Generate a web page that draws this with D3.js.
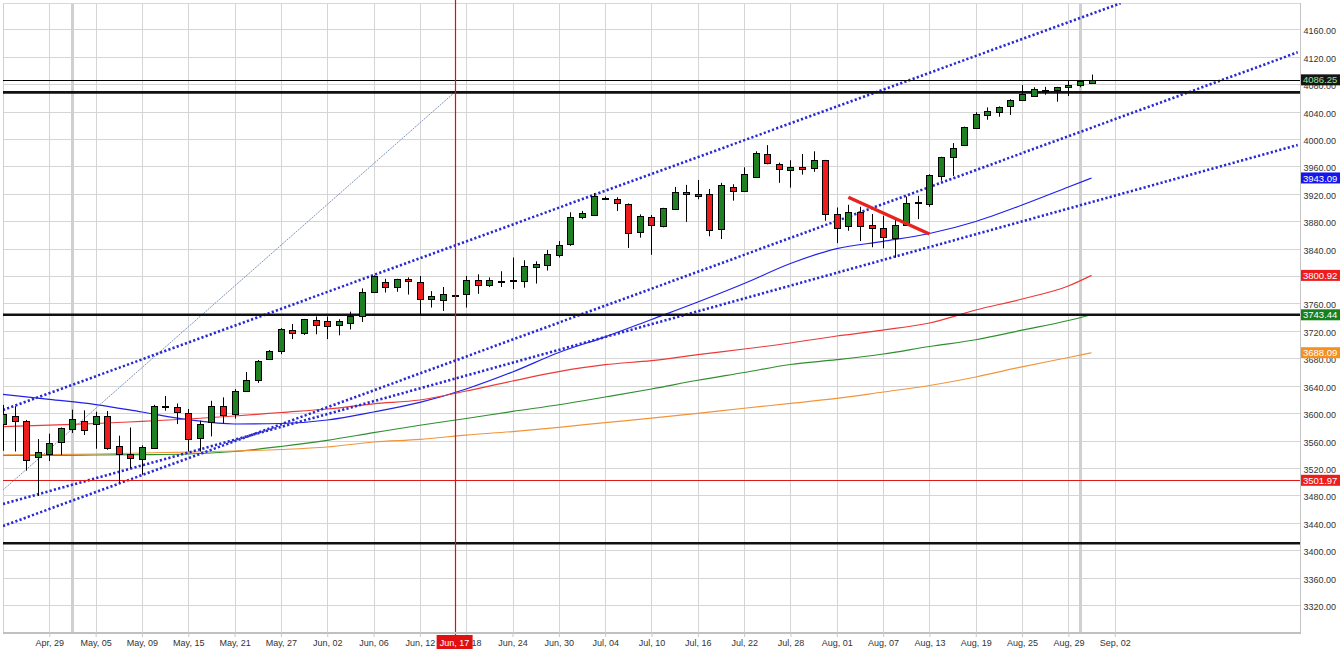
<!DOCTYPE html>
<html>
<head>
<meta charset="utf-8">
<script src="https://cdn.jsdelivr.net/npm/d3@7"></script>
<style>
  html, body { margin: 0; padding: 0; background: #fff; }
  svg { display: block; font-family: "Liberation Sans", Arial, sans-serif; }
</style>
</head>
<body>
<div id="chart"></div>
<script>
// chart.js - daily candles with moving averages and drawn trend lines

// Bars are counted from Apr 29 (bar 0); the first visible bar is -4
const firstBar = -4;
const opens = [3585, 3596, 3588, 3535.5, 3541, 3557, 3576, 3589, 3584, 3596, 3552, 3540, 3533.5, 3549, 3610.5, 3609, 3600, 3563, 3587, 3611,
  3598, 3632, 3648, 3678.5, 3690, 3721, 3716.5, 3736, 3735, 3728, 3732, 3742, 3777, 3791, 3784, 3795.7, 3792, 3765.5, 3765.5, 3773,
  3773, 3794, 3786, 3792.5, 3793, 3792, 3813, 3816.5, 3831, 3846, 3885, 3890, 3914, 3912.4, 3905, 3864, 3885.7, 3873.4, 3897.5, 3922,
  3916, 3919, 3869, 3929.5, 3923.6, 3944, 3978, 3963, 3953.7, 3958.6, 3957, 3969, 3890, 3873, 3894, 3874, 3869.6, 3855, 3874.4, 3907,
  3905, 3945, 3973, 3990.7, 4016.4, 4035.4, 4039, 4047, 4056.4, 4063.7, 4071.5, 4071, 4075.4, 4078.5, 4082];
const highs = [3612, 3610, 3590, 3562, 3570, 3579, 3605, 3604, 3602, 3603, 3567, 3579, 3553, 3612, 3625, 3614, 3606, 3589, 3618, 3623,
  3635, 3660, 3677.5, 3692, 3724, 3730, 3737.5, 3741, 3741, 3737, 3748, 3782, 3801, 3796, 3796, 3798, 3800, 3778, 3784, 3774,
  3800, 3802.5, 3798, 3807, 3827, 3823, 3821.5, 3838, 3851, 3893, 3895, 3921, 3916, 3915, 3906, 3890, 3889, 3899.5, 3930, 3933,
  3940, 3927, 3936, 3934, 3958.6, 3982, 3991, 3965.4, 3969, 3978, 3982, 3969.5, 3900, 3904, 3901, 3890.5, 3888, 3882, 3916, 3917,
  3948.5, 3974, 3994, 4018, 4039, 4046, 4047.5, 4058, 4078.7, 4075.4, 4076, 4076, 4086, 4085.5, 4094];
const lows = [3545, 3544, 3516, 3479, 3530, 3539, 3571, 3568, 3548, 3546.5, 3498, 3519.5, 3510, 3548, 3603.5, 3584, 3544, 3544, 3566, 3585,
  3592, 3631, 3644, 3677.5, 3686, 3708, 3714, 3715, 3708, 3713.5, 3722, 3733, 3776, 3776, 3777, 3773, 3743, 3754, 3749, 3771,
  3754, 3774, 3784, 3784, 3781, 3783, 3789, 3808, 3827, 3844, 3883, 3888, 3912, 3895, 3841, 3856, 3831, 3871, 3897, 3879,
  3912, 3858, 3854, 3910, 3923, 3943.5, 3963, 3936, 3929, 3948, 3952, 3880.7, 3848, 3866, 3851, 3842, 3840.5, 3827, 3874, 3883,
  3901, 3939, 3946, 3989.7, 4016, 4028, 4032.5, 4035, 4056, 4062.7, 4064.6, 4054.4, 4062.7, 4075.4, 4082];
const closes = [3599, 3589, 3531, 3543, 3557, 3578, 3591, 3576, 3596, 3549.5, 3540, 3534.5, 3550.5, 3611, 3611, 3601, 3562, 3584, 3611, 3598,
  3632, 3648, 3676, 3690.5, 3722, 3716.5, 3737, 3729, 3727, 3734, 3742, 3777, 3800, 3784, 3795, 3792.3, 3767.5, 3770.5, 3774, 3772,
  3794, 3786, 3794, 3793, 3793.5, 3814, 3817, 3832, 3846, 3886, 3891.5, 3917, 3914.5, 3906, 3862, 3887, 3873.4, 3899, 3922, 3919,
  3919, 3867, 3933, 3923, 3949, 3979, 3964.5, 3955.7, 3958.6, 3955.7, 3969, 3890, 3869.6, 3893, 3874, 3869.6, 3856.5, 3874, 3907, 3907.5,
  3947, 3973, 3986.4, 4017, 4036.4, 4040.8, 4047, 4056.4, 4065.6, 4073.3, 4072, 4075.4, 4078.7, 4085, 4086.25];

// moving averages, read at every 4th bar
const maBars = [-4, 0, 4, 8, 12, 16, 20, 24, 28, 32, 36, 40, 44, 48, 52, 56, 60, 64, 68, 72, 76, 80, 84, 88, 90];
const blueMA = [3627.4, 3620, 3612.5, 3601.6, 3590.4, 3584.1, 3584.8, 3589.9, 3601.6, 3615.6, 3635.2, 3660, 3688.4, 3711.3, 3736.6,
  3762.1, 3789.1, 3818.3, 3840, 3850.5, 3862, 3879.6, 3903.6, 3929.9, 3943.09];
const redMA = [3580.2, 3582.5, 3584.8, 3588, 3591.4, 3595.8, 3600.9, 3606, 3613.6, 3619.1, 3632.2, 3646.8, 3660.5, 3670.6, 3676.6,
  3685.4, 3693.5, 3702.3, 3712.5, 3721.2, 3731.5, 3750.4, 3766.5, 3785.5, 3800.92];
const greenMA = [3538.1, 3538.4, 3538.9, 3539.4, 3540.3, 3544, 3551.3, 3560.3, 3571.4, 3582.3, 3592.1, 3602.5, 3612.2, 3623.5, 3635.2,
  3647.9, 3659.2, 3670.9, 3677.9, 3686.2, 3697.2, 3707, 3721, 3735.1, 3743.44];
const orangeMA = [3538.9, 3539.4, 3540.3, 3541.8, 3543.2, 3544.7, 3546.9, 3550.5, 3557.8, 3561.6, 3568, 3573.1, 3579.3, 3586.1, 3592.6,
  3599.7, 3607.1, 3614.1, 3621.4, 3630.8, 3640.3, 3652.7, 3667.5, 3681.1, 3688.09];

// drawn lines as [bar, price] end points
const channelLines = [
  [[-4, 3604.5], [92.5, 4198]],
  [[-4, 3435.3], [107.8, 4126.4]],
  [[-4, 3467.4], [107.8, 3991.2]]
];
const fanLine = [[-4, 3487.8], [35, 4068]];
const wedgeLine = [[69, 3914.9], [76, 3861.3]];

// horizontal levels
const blackLevels = [4068, 3743.44, 3410];
const lastPrice = 4086.25;
const redLevel = 3501.97;

// price tags on the right axis
const tagValues = [4086.25, 3943.09, 3800.92, 3743.44, 3688.09, 3501.97];
const tagFills = ['#151515', '#1515ee', '#ee1c1c', '#16801c', '#f3901f', '#ee1c1c'];
const tagTexts = ['#9be39b', '#fff', '#fff', '#fff', '#fff', '#fff'];

// axis labels
const priceTicks = d3.range(3320, 4161, 40);
const tickBars = d3.range(0, 93, 4);
const tickLabels = ['Apr, 29', 'May, 05', 'May, 09', 'May, 15', 'May, 21', 'May, 27', 'Jun, 02', 'Jun, 06', 'Jun, 12', 'Jun, 18',
  'Jun, 24', 'Jun, 30', 'Jul, 04', 'Jul, 10', 'Jul, 16', 'Jul, 22', 'Jul, 28', 'Aug, 01', 'Aug, 07', 'Aug, 13', 'Aug, 19',
  'Aug, 25', 'Aug, 29', 'Sep, 02'];
const markBar = 35;
const markLabel = 'Jun, 17';
const sessionBars = [2, 89];

// Dimensions
const width = 1343;
const height = 662;
const plot = { left: 3, right: 1300, top: 3, bottom: 632 };

const svg = d3.select('#chart')
  .append('svg')
  .attr('width', width)
  .attr('height', height);

// scales
const x = d3.scaleLinear().domain([0, 88]).range([49.3, 1068.4]);
const y = d3.scaleLinear().domain([3320, 4160]).range([605, 29.3]);
const px = v => Math.round(v) + 0.5;

svg.append('clipPath').attr('id', 'plotClip')
  .append('rect')
  .attr('x', plot.left).attr('y', plot.top)
  .attr('width', plot.right - plot.left).attr('height', plot.bottom - plot.top);

// grid
const grid = svg.append('g');
grid.selectAll('.hgrid')
  .data(priceTicks)
  .enter().append('line')
  .attr('x1', plot.left).attr('x2', plot.right)
  .attr('y1', d => px(y(d))).attr('y2', d => px(y(d)))
  .attr('stroke', '#d5d5d5');

grid.selectAll('.vgrid')
  .data(tickBars)
  .enter().append('line')
  .attr('x1', d => px(x(d))).attr('x2', d => px(x(d)))
  .attr('y1', plot.top).attr('y2', plot.bottom)
  .attr('stroke', '#d5d5d5');

grid.selectAll('.session')
  .data(sessionBars)
  .enter().append('line')
  .attr('x1', d => px(x(d))).attr('x2', d => px(x(d)))
  .attr('y1', plot.top).attr('y2', plot.bottom)
  .attr('stroke', '#d0d0d0')
  .attr('stroke-width', 3);

// frame
grid.append('line').attr('x1', plot.left + 0.5).attr('x2', plot.left + 0.5)
  .attr('y1', plot.top).attr('y2', plot.bottom).attr('stroke', '#d0d0d0');
grid.append('line').attr('x1', plot.left).attr('x2', plot.right)
  .attr('y1', plot.top + 0.5).attr('y2', plot.top + 0.5).attr('stroke', '#d8d8d8');
grid.append('line').attr('x1', plot.right + 0.5).attr('x2', plot.right + 0.5)
  .attr('y1', plot.top).attr('y2', plot.bottom + 2).attr('stroke', '#c4c4c4');

const layer = svg.append('g').attr('clip-path', 'url(#plotClip)');

// moving averages
const maLine = d3.line()
  .x((d, i) => x(maBars[i]))
  .y(d => y(d))
  .curve(d3.curveMonotoneX);

[[blueMA, '#2121e8'], [redMA, '#ec3a3a'], [greenMA, '#2f8f2f'], [orangeMA, '#f2953a']].forEach(([vals, col]) => {
  layer.append('path')
    .datum(vals)
    .attr('d', maLine)
    .attr('fill', 'none')
    .attr('stroke', col)
    .attr('stroke-width', 1.2);
});

// drawn lines
const seg = d3.line().x(d => x(d[0])).y(d => y(d[1]));

layer.append('path')
  .datum(fanLine)
  .attr('d', seg)
  .attr('fill', 'none')
  .attr('stroke', '#7f92b8')
  .attr('stroke-width', 1)
  .attr('stroke-dasharray', '2 1');

layer.selectAll('.channel')
  .data(channelLines)
  .enter().append('path')
  .attr('d', seg)
  .attr('fill', 'none')
  .attr('stroke', '#2a2ad2')
  .attr('stroke-width', 2.6)
  .attr('stroke-dasharray', '2.2 2.2');

// levels
layer.selectAll('.level')
  .data(blackLevels)
  .enter().append('line')
  .attr('x1', plot.left).attr('x2', plot.right)
  .attr('y1', d => y(d)).attr('y2', d => y(d))
  .attr('stroke', '#111')
  .attr('stroke-width', 2.6);

layer.append('line')
  .attr('x1', plot.left).attr('x2', plot.right)
  .attr('y1', px(y(lastPrice))).attr('y2', px(y(lastPrice)))
  .attr('stroke', '#000');

layer.append('line')
  .attr('x1', plot.left).attr('x2', plot.right)
  .attr('y1', px(y(redLevel))).attr('y2', px(y(redLevel)))
  .attr('stroke', '#e01818');

// candles
const bars = opens.map((o, i) => ({ i: i + firstBar, o, h: highs[i], l: lows[i], c: closes[i] }));

const candle = layer.selectAll('.candle')
  .data(bars)
  .enter().append('g');

candle.append('line')
  .attr('x1', d => px(x(d.i))).attr('x2', d => px(x(d.i)))
  .attr('y1', d => y(d.h)).attr('y2', d => y(d.l))
  .attr('stroke', '#000');

candle.append('rect')
  .attr('x', d => Math.round(x(d.i)) - 3 + 0.5)
  .attr('width', 6)
  .attr('y', d => Math.round(y(Math.max(d.o, d.c))) + 0.5)
  .attr('height', d => Math.max(1, Math.round(y(Math.min(d.o, d.c)) - y(Math.max(d.o, d.c)))))
  .attr('fill', d => d.c >= d.o ? '#1f7f23' : '#ee1d1d')
  .attr('stroke', '#000')
  .attr('stroke-width', 1);

// wedge line
layer.append('path')
  .datum(wedgeLine)
  .attr('d', seg)
  .attr('fill', 'none')
  .attr('stroke', '#e8231f')
  .attr('stroke-width', 3.5);

// marker line
svg.append('line')
  .attr('x1', px(x(markBar))).attr('x2', px(x(markBar)))
  .attr('y1', 0).attr('y2', plot.bottom + 4)
  .attr('stroke', '#ff0000')
  .attr('stroke-width', 1.2);

// y axis (a label sitting right under a price tag is hidden, as in the source)
const hidden = d => tagValues.some(t => Math.abs(y(t) - y(d)) < 2.5);
const yAxis = svg.append('g')
  .attr('transform', `translate(${plot.right},0)`)
  .call(d3.axisRight(y).tickValues(priceTicks.filter(d => !hidden(d)))
    .tickFormat(d3.format('.2f')).tickSize(0).tickPadding(3.5));
yAxis.select('.domain').remove();
yAxis.selectAll('text')
  .attr('dy', '0.5em')
  .attr('fill', '#333')
  .style('font-size', '9px');

// x axis
const xAxis = svg.append('g')
  .attr('transform', `translate(0,${plot.bottom})`)
  .call(d3.axisBottom(x).tickValues(tickBars).tickFormat((d, i) => tickLabels[i]).tickSize(5).tickPadding(2.5));
xAxis.select('.domain')
  .attr('d', `M${plot.left},1H${plot.right + 1}`)
  .attr('stroke', '#c0c0c0')
  .attr('stroke-width', 2);
xAxis.selectAll('.tick line').attr('stroke', '#c8c8c8');
xAxis.selectAll('text')
  .attr('fill', '#333')
  .style('font-size', '9px');

// highlighted date
svg.append('rect')
  .attr('x', x(markBar) - 18).attr('y', plot.bottom + 3)
  .attr('width', 36).attr('height', 14)
  .attr('fill', '#e01010');
svg.append('text')
  .attr('x', x(markBar)).attr('y', plot.bottom + 13.5)
  .attr('text-anchor', 'middle')
  .attr('fill', '#fff')
  .style('font-size', '9px')
  .text(markLabel);

// price tags
const tag = svg.selectAll('.tag')
  .data(tagValues)
  .enter().append('g');
tag.append('rect')
  .attr('x', plot.right + 1).attr('y', d => y(d) - 5.5)
  .attr('width', 39).attr('height', 11)
  .attr('fill', (d, i) => tagFills[i]);
tag.append('text')
  .attr('x', plot.right + 3).attr('y', d => y(d) + 3.6)
  .attr('fill', (d, i) => tagTexts[i])
  .style('font-size', '9.5px')
  .text(d => d3.format('.2f')(d));
</script>
</body>
</html>
